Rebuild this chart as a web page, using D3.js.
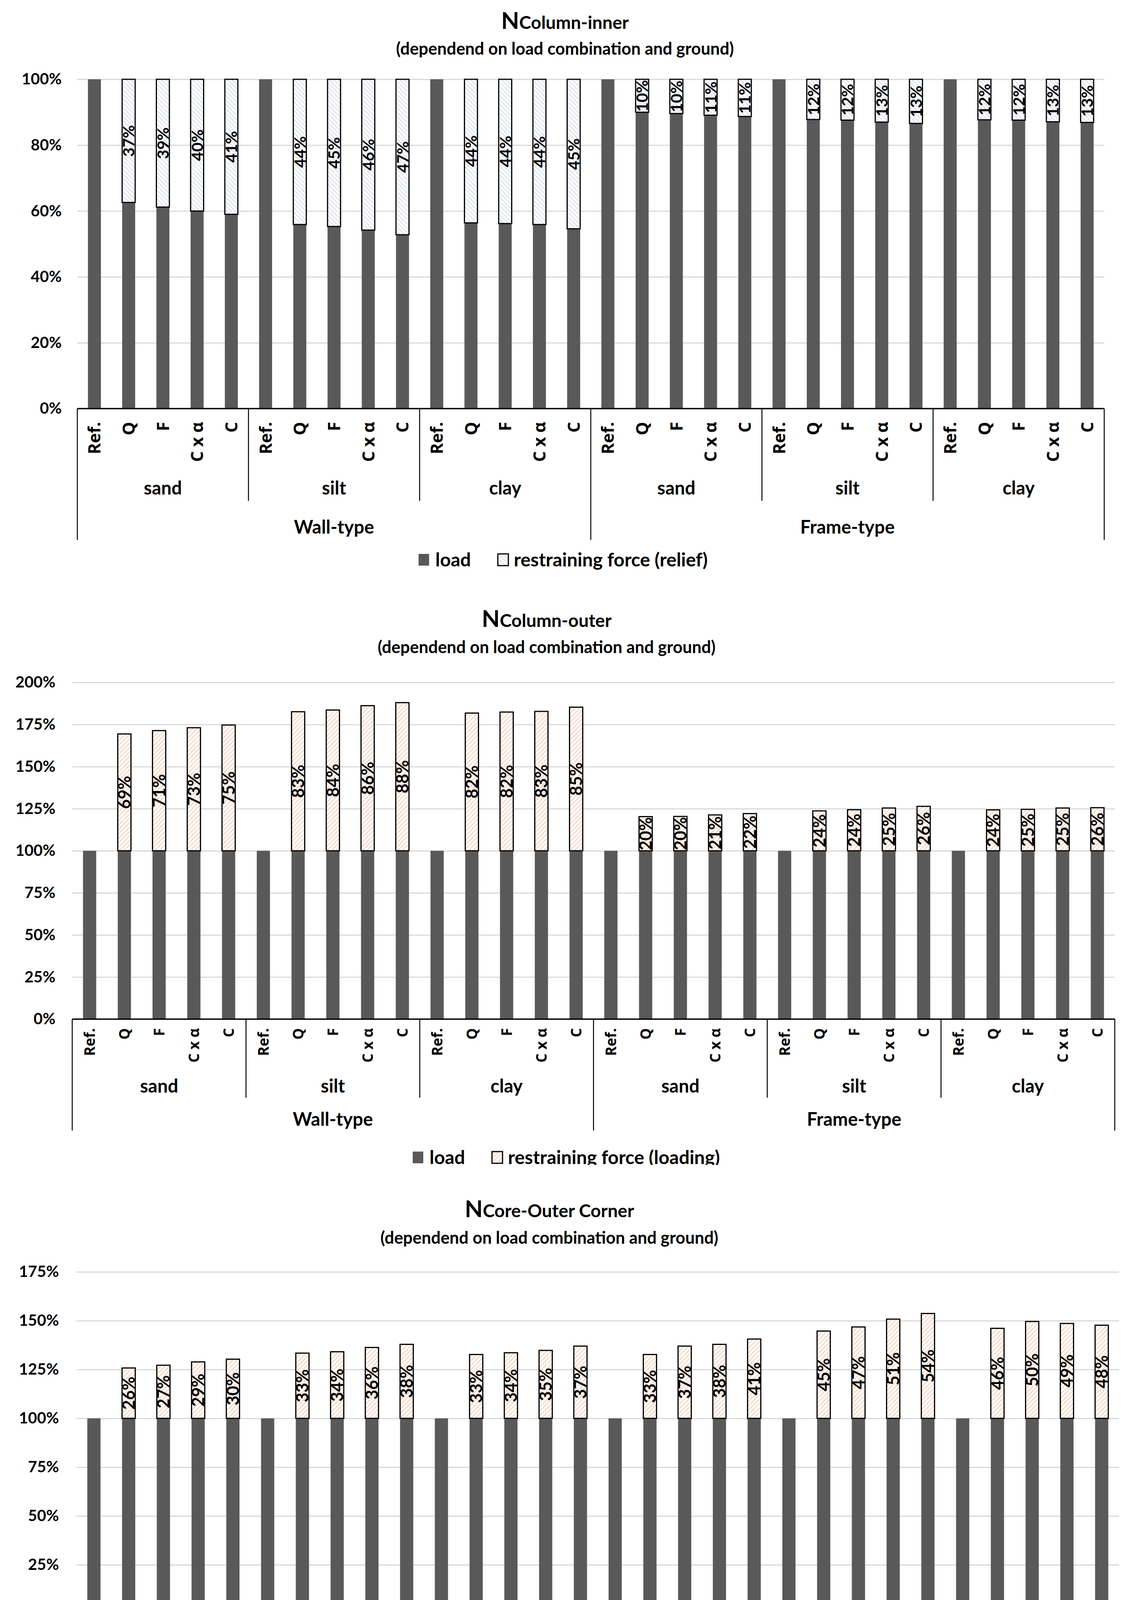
<!DOCTYPE html>
<html lang="en">
<head>
<meta charset="UTF-8">
<title>Load and restraining force</title>
<script src="https://d3js.org/d3.v7.min.js"></script>
<style>
  html, body { margin: 0; padding: 0; overflow: hidden; background: white; }
  svg { display: block; font-family: Lato, sans-serif; font-weight: bold; }
  .grid line { stroke: #d9d9d9; stroke-width: 3; }
  .grid path, .ytick path, .cat path { display: none; }
  .cat text { font-family: "Open Sans", sans-serif; font-weight: bold; fill: #000; }
</style>
</head>
<body>
<svg width="2894" height="4565"></svg>
<script>
const conditions = ["Ref.", "Q", "F", "C x α", "C"];
const grounds = ["sand", "silt", "clay"];
const systems = ["Wall-type", "Frame-type"];

// N Column-inner : load share + relief, in %
const innerLoad = [100, 62.6, 61.2, 60.0, 59.0, 100, 55.9, 55.3, 54.2, 52.8, 100, 56.4, 56.2, 55.9, 54.6,
                   100, 90.0, 89.6, 89.1, 88.7, 100, 87.8, 87.6, 87.0, 86.6, 100, 87.7, 87.6, 87.1, 86.9];
const innerRelief = [0, 37.4, 38.8, 40.0, 41.0, 0, 44.1, 44.7, 45.8, 47.2, 0, 43.6, 43.8, 44.1, 45.4,
                     0, 10.0, 10.4, 10.9, 11.3, 0, 12.2, 12.4, 13.0, 13.4, 0, 12.3, 12.4, 12.9, 13.1];

// N Column-outer : load + additional loading
const outerLoad = [100, 100, 100, 100, 100, 100, 100, 100, 100, 100, 100, 100, 100, 100, 100,
                   100, 100, 100, 100, 100, 100, 100, 100, 100, 100, 100, 100, 100, 100, 100];
const outerLoading = [0, 69.4, 71.4, 73.1, 74.7, 0, 82.6, 83.6, 86.2, 88.0, 0, 81.8, 82.4, 82.8, 85.3,
                      0, 20.3, 20.4, 21.3, 22.1, 0, 23.7, 24.4, 25.4, 26.4, 0, 24.3, 24.6, 25.4, 25.6];

// N Core-Outer Corner
const cornerLoad = [100, 100, 100, 100, 100, 100, 100, 100, 100, 100, 100, 100, 100, 100, 100,
                    100, 100, 100, 100, 100, 100, 100, 100, 100, 100, 100, 100, 100, 100, 100];
const cornerLoading = [0, 25.8, 27.2, 28.9, 30.3, 0, 33.4, 34.1, 36.3, 37.9, 0, 32.7, 33.6, 34.8, 37.0,
                       0, 32.7, 37.0, 37.9, 40.6, 0, 44.7, 46.8, 50.8, 53.7, 0, 46.1, 49.6, 48.6, 47.7];

const innerTicks = [0, 20, 40, 60, 80, 100];
const outerTicks = [0, 25, 50, 75, 100, 125, 150, 175, 200];
const cornerTicks = [0, 25, 50, 75, 100, 125, 150, 175];

const svg = d3.select("svg");
const defs = svg.append("defs");

function hatch(id, color, angle) {
  const p = defs.append("pattern").attr("id", id)
    .attr("patternUnits", "userSpaceOnUse")
    .attr("width", 8).attr("height", 8)
    .attr("patternTransform", `rotate(${angle})`);
  p.append("rect").attr("width", 8).attr("height", 8).attr("fill", "white");
  p.append("line").attr("x1", 4).attr("x2", 4).attr("y1", 0).attr("y2", 8)
    .attr("stroke", color).attr("stroke-width", 1.8);
}
hatch("hatchBlue", "#cdd6e8", -45);
hatch("hatchOrange", "#f6c3a3", 45);

const keys = [];
systems.forEach(s => grounds.forEach(gr => conditions.forEach(c => keys.push(s + "|" + gr + "|" + c))));

function drawChart(o) {
  const g = svg.append("g");
  const x = d3.scaleBand().domain(keys).range([o.left, o.right]).paddingInner(0.62).paddingOuter(0.31);
  const y = d3.scaleLinear().domain([0, o.yMax]).range([o.bottom, o.top]);
  const step = x.step();

  // title
  const t = g.append("text").attr("x", o.titleX).attr("y", o.titleY).attr("text-anchor", "middle");
  t.append("tspan").attr("font-size", 60).text("N");
  t.append("tspan").attr("font-size", 46).text(o.sub);
  g.append("text").attr("x", o.titleX).attr("y", o.subY).attr("text-anchor", "middle")
    .attr("font-size", 43).text("(dependend on load combination and ground)");

  // grid + y labels
  g.append("g").attr("class", "grid").attr("transform", `translate(${o.left},0)`)
    .call(d3.axisLeft(y).tickValues(o.ticks.filter(d => d > 0)).tickSize(-(o.right - o.left)).tickFormat(""));
  g.append("g").attr("class", "ytick").attr("transform", `translate(${o.tickRight},0)`)
    .call(d3.axisLeft(y).tickValues(o.ticks).tickSize(0).tickPadding(0).tickFormat(d => d + "%"))
    .selectAll("text").attr("font-size", 40).attr("font-family", "Lato, sans-serif")
    .attr("font-weight", "bold").attr("fill", "#000");

  // bars
  const rows = keys.map((k, i) => ({ k, load: o.load[i], extra: o.extra[i] }));
  g.selectAll(".load").data(rows).join("rect").attr("class", "load")
    .attr("x", d => x(d.k)).attr("width", x.bandwidth())
    .attr("y", d => y(d.load)).attr("height", d => y(0) - y(d.load))
    .attr("fill", "#595959");
  const ex = rows.filter(d => d.extra > 0);
  g.selectAll(".extra").data(ex).join("rect").attr("class", "extra")
    .attr("x", d => x(d.k)).attr("width", x.bandwidth())
    .attr("y", d => y(d.load + d.extra)).attr("height", d => y(d.load) - y(d.load + d.extra))
    .attr("fill", `url(#${o.hatch})`).attr("stroke", "#000").attr("stroke-width", 3);
  g.selectAll(".val").data(ex).join("text").attr("class", "val")
    .attr("transform", d => `translate(${x(d.k) + x.bandwidth() / 2},${(y(d.load) + y(d.load + d.extra)) / 2}) rotate(-90)`)
    .attr("text-anchor", "middle").attr("dy", "0.36em")
    .attr("font-size", o.valSize).text(d => Math.round(d.extra) + "%");

  // x axis line
  g.append("line").attr("x1", o.left).attr("x2", o.right).attr("y1", y(0)).attr("y2", y(0))
    .attr("stroke", "#000").attr("stroke-width", 3.5);

  // condition labels
  g.append("g").attr("class", "cat").attr("transform", `translate(0,${y(0)})`)
    .call(d3.axisBottom(x).tickSize(0).tickFormat(k => k.split("|")[2]))
    .selectAll("text")
    .attr("x", 0).attr("y", 0).attr("dy", "0.36em")
    .attr("transform", `translate(0,${o.catTop - y(0)}) rotate(-90)`)
    .style("text-anchor", "end").attr("font-size", o.catSize);

  // group separators
  for (let k = 0; k <= 6; k++) {
    const xx = o.left + step * 5 * k;
    const full = k % 3 === 0;
    g.append("line").attr("x1", xx).attr("x2", xx).attr("y1", y(0))
      .attr("y2", full ? o.lineBottom : o.sepBottom)
      .attr("stroke", "#000").attr("stroke-width", 2.5);
  }
  systems.forEach((s, si) => {
    grounds.forEach((gr, gi) => {
      const cx = o.left + step * 5 * (si * 3 + gi + 0.5);
      g.append("text").attr("x", cx).attr("y", o.soilY).attr("dy", "0.35em")
        .attr("text-anchor", "middle").attr("font-size", 47).text(gr);
    });
    const cx = o.left + step * 15 * (si + 0.5);
    g.append("text").attr("x", cx).attr("y", o.typeY).attr("dy", "0.35em")
      .attr("text-anchor", "middle").attr("font-size", 47).text(s);
  });

  // legend
  const lg = g.append("g");
  if (o.clip) {
    defs.append("clipPath").attr("id", "legclip").append("rect")
      .attr("x", 0).attr("y", 0).attr("width", 2894).attr("height", o.clip);
    lg.attr("clip-path", "url(#legclip)");
  }
  lg.append("rect").attr("x", o.legendX).attr("y", o.legendY - 15).attr("width", 27).attr("height", 30)
    .attr("fill", "#595959");
  lg.append("text").attr("x", o.legendX + 43).attr("y", o.legendY).attr("dy", "0.35em")
    .attr("font-size", 48).text("load");
  lg.append("rect").attr("x", o.legendX + 203).attr("y", o.legendY - 15).attr("width", 27).attr("height", 30)
    .attr("fill", `url(#${o.hatch})`).attr("stroke", "#000").attr("stroke-width", 3);
  lg.append("text").attr("x", o.legendX + 244).attr("y", o.legendY).attr("dy", "0.35em")
    .attr("font-size", 48).text(o.legendText);
}

drawChart({
  sub: "Column-inner", load: innerLoad, extra: innerRelief, yMax: 100, ticks: innerTicks,
  top: 203, bottom: 1046, left: 198, right: 2828, tickRight: 158,
  titleX: 1447, titleY: 74, subY: 140, valSize: 41, catSize: 43, catTop: 1080,
  sepBottom: 1282, soilY: 1250, typeY: 1350, lineBottom: 1382,
  legendX: 1072, legendY: 1433, hatch: "hatchBlue", legendText: "restraining force (relief)"
});

drawChart({
  sub: "Column-outer", load: outerLoad, extra: outerLoading, yMax: 200, ticks: outerTicks,
  top: 1747, bottom: 2609, left: 185, right: 2855, tickRight: 142,
  titleX: 1400, titleY: 1605, subY: 1672, valSize: 43, catSize: 37, catTop: 2632,
  sepBottom: 2810, soilY: 2781, typeY: 2866, lineBottom: 2894,
  legendX: 1057, legendY: 2963, hatch: "hatchOrange", legendText: "restraining force (loading)", clip: 2982
});

drawChart({
  sub: "Core-Outer Corner", load: cornerLoad, extra: cornerLoading, yMax: 175, ticks: cornerTicks,
  top: 3256, bottom: 4131, left: 196, right: 2866, tickRight: 151,
  titleX: 1407, titleY: 3116, subY: 3184, valSize: 43, catSize: 37, catTop: 4162,
  sepBottom: 4346, soilY: 4312, typeY: 4405, lineBottom: 4434,
  legendX: 1064, legendY: 4503, hatch: "hatchOrange", legendText: "restraining force (loading)"
});
</script>
</body>
</html>
